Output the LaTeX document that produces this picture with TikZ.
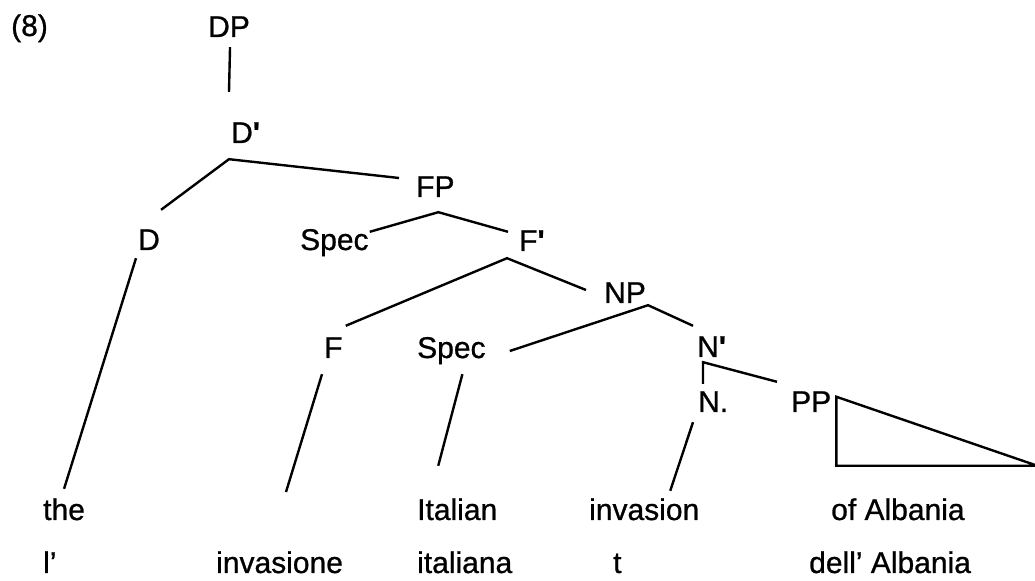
\documentclass[tikz,border=0pt]{standalone}
\usepackage{fontspec}
\setmainfont{Liberation Sans}
\usepackage{tikz}
\newcommand{\barmark}{{\bfseries\textquotesingle}}

\begin{document}
\begin{tikzpicture}[x=0.5pt, y=-0.5pt, line width=1.2pt,
    cat/.style={inner sep=0pt, anchor=base west, text height=11pt, text depth=3pt, font=\fontsize{15}{18}\selectfont\addfontfeatures{FakeBold=0.8}},
    word/.style={cat}]
    \useasboundingbox (0,0) rectangle (1035,581);

    % categories
    \node (ex) [cat] at (10,36) {(8)};
    \node (dp) [cat] at (207,37) {DP};
    \node (dbar) [cat] at (230,143) {D\barmark};
    \node (d) [cat] at (137,250) {D};
    \node (fp) [cat] at (415,197) {FP};
    \node (fspec) [cat] at (299,250) {Spec};
    \node (fbar) [cat] at (518,251) {F\barmark};
    \node (f) [cat] at (323,358) {F};
    \node (np) [cat] at (603,303) {NP};
    \node (nspec) [cat] at (416,358) {Spec};
    \node (nbar) [cat] at (696,357) {N\barmark};
    \node (n) [cat] at (697,412) {N.};
    \node (pp) [cat] at (790,412) {PP};

    % English row
    \node (the) [word] at (42,520) {the};
    \node (italian) [word] at (416,520) {Italian};
    \node (invasion) [word] at (588,520) {invasion};
    \node (ofalb) [word] at (830,520) {of Albania};
    \coordinate (gap) at (286,492);

    % Italian row
    \node (il) [word] at (42,573) {l'};
    \node (invasione) [word] at (215,573) {invasione};
    \node (italiana) [word] at (416,573) {italiana};
    \node (trace) [word] at (612,573) {t};
    \node (dellalb) [word] at (808,573) {dell' Albania};

    % branches
    \draw ([shift={(1,3)}]dp.south) -- ([shift={(-1,-28)}]dbar.north west);
    \draw ([shift={(0,-17)}]d.north east) -- ([shift={(-1,9)}]dbar.south west) -- ([shift={(-16,-11)}]fp.west);
    \draw ([shift={(0,5)}]fspec.north east) -- ([shift={(3,8)}]fp.south) -- ([shift={(-10,4)}]fbar.north west);
    \draw ([shift={(2,-9)}]f.north east) -- ([shift={(-11,0)}]fbar.south west) -- ([shift={(-17,-5)}]np.west);
    \draw ([shift={(23,1)}]nspec.east) -- ([shift={(1,-5)}]np.south east) -- ([shift={(-3,-8)}]nbar.north west);
    \draw ([shift={(6,-5)}]n.north west) -- ([shift={(7,-2)}]nbar.south west) -- ([shift={(-13,-7)}]pp.north west);
    \draw ([shift={(4,8)}]pp.north east) -- ++(0,69) -- ++(201,0) -- cycle;

    % leaves
    \draw ([shift={(-1,1)}]d.south west) -- ([shift={(0,-8)}]the.north);
    \draw ([shift={(-1,9)}]f.south west) -- (gap);
    \draw ([shift={(11,9)}]nspec.south) -- ([shift={(-19,-31)}]italian.north);
    \draw ([shift={(-4,3)}]n.south west) -- ([shift={(26,-6)}]invasion.north);
\end{tikzpicture}
\end{document}
